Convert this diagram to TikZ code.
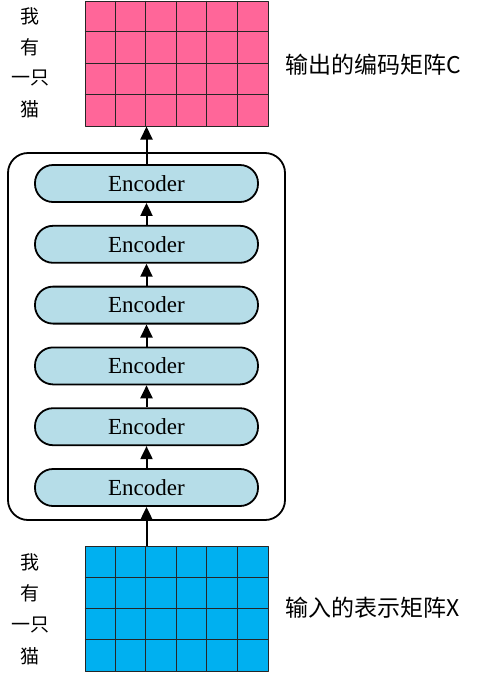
\documentclass[tikz,border=0pt]{standalone}
\usepackage{fontspec}
\setmainfont{Liberation Serif}
\newfontfamily\cjk{Noto Sans CJK SC}
\usetikzlibrary{arrows.meta}
\definecolor{pinkC}{RGB}{255,102,153}
\definecolor{blueX}{RGB}{0,176,240}
\definecolor{encblue}{RGB}{182,221,232}

\begin{document}
\begin{tikzpicture}[x=1pt,y=-1pt,line join=round,>={Triangle[width=12pt,length=13pt]},
	mat/.style={draw=black!85,line width=1pt,minimum width=183pt,minimum height=125pt,inner sep=0pt},
	enc/.style={draw,line width=1.8pt,fill=encblue,rounded corners=18pt,minimum width=223pt,minimum height=37pt,inner sep=0pt,font=\fontsize{23}{25}\selectfont},
	word/.style={font=\cjk\fontsize{19}{20}\selectfont},
	mattitle/.style={font=\cjk\fontsize{23}{26}\selectfont,anchor=west,inner sep=0pt},
	arr/.style={->,line width=2pt}]
	\useasboundingbox (0,0) rectangle (480,675);
	% matrices
	\node[mat,fill=pinkC] (C) at (176.5,63.5) {};
	\node[mat,fill=blueX] (X) at (176.5,609) {};
	\foreach \m in {C,X}{
		\foreach \i in {1,...,5} \draw[black!85,line width=1pt] (\m.north west) ++(\i*30.5,0) -- ++(0,125);
		\foreach \j in {1,2,3} \draw[black!85,line width=1pt] (\m.north west) ++(0,\j*31.25) -- ++(183,0);
	}
	% words beside the rows
	\foreach \w [count=\k from 0] in {我,有,一只,猫}{
		\node[word] (wc\k) at (30,{16+\k*31.25}) {\w};
		\node[word] (wx\k) at (30,{562.5+\k*31.25}) {\w};
	}
	\node[mattitle] (titleC) at (285,65) {输出的编码矩阵C};
	\node[mattitle] (titleX) at (285,608) {输入的表示矩阵X};
	% encoder stack
	\node[draw,line width=1.8pt,rounded corners=20pt,minimum width=277pt,minimum height=367pt] (stack) at (146.5,336.5) {};
	\foreach \i in {1,...,6} \node[enc] (enc\i) at (146.5,{183.5+(\i-1)*60.8}) {Encoder};
	\foreach \i [count=\j from 2] in {1,...,5} \draw[arr] (enc\j.north) -- (enc\i.south);
	\draw[arr] (X.north -| enc6.south) -- (enc6.south);
	\draw[arr] (enc1.north) -- (C.south -| enc1.north);
\end{tikzpicture}
\end{document}
